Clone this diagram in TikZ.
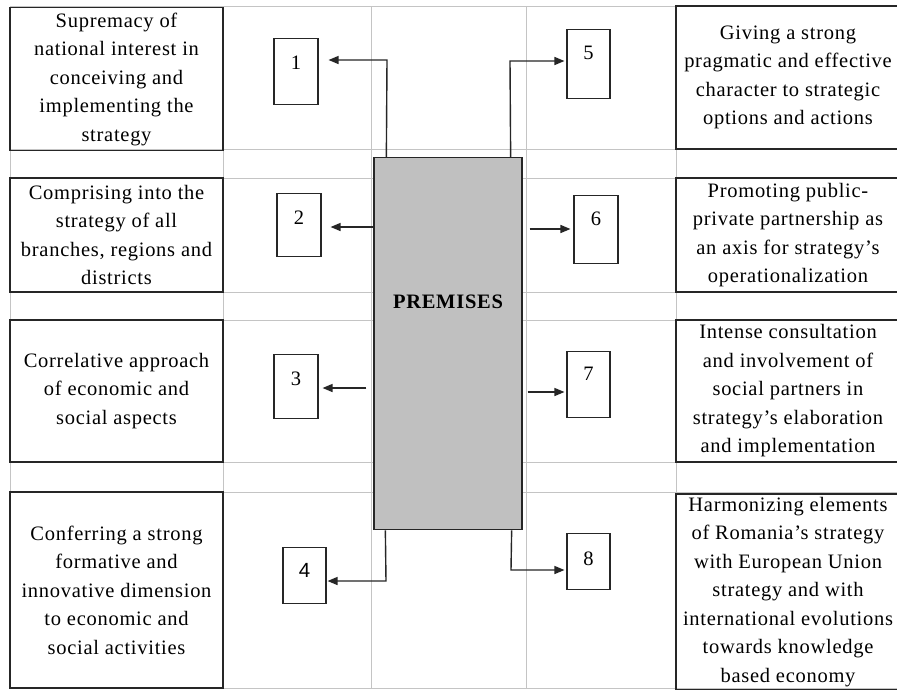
\documentclass[tikz,border=0pt]{standalone}
\usepackage{fontspec}
\setmainfont{Liberation Serif}[LetterSpace=3.5]
\newfontfamily\numsans{Liberation Sans}
\usetikzlibrary{arrows.meta}
\definecolor{gridgray}{HTML}{C4C4C4}
\definecolor{boxgray}{HTML}{C0C0C0}
\definecolor{ink}{HTML}{262626}
\begin{document}
\begin{tikzpicture}[x=1pt,y=-1pt,
  txt/.style={font=\fontsize{20.5}{28.5}\selectfont},
  tbox/.style={txt, draw=ink, line width=1.3pt, align=center, inner sep=0pt},
  numbox/.style={txt, draw=ink, line width=1.1pt, inner sep=0pt, anchor=north},
  gridline/.style={draw=gridgray, line width=1pt},
  arr/.style={draw=ink, line width=1.4pt, -{Triangle[length=10pt,width=8pt]}},
]
\useasboundingbox (0,0) rectangle (897,689);
\fill[white] (0,0) rectangle (897,689);
% table grid
\foreach \y in {6,149,178,292,320,462,492,688} \draw[gridline] (10,\y) -- (897,\y);
\foreach \x in {10,223,371,526,676} \draw[gridline] (\x,6) -- (\x,688);
% left text boxes
\node[tbox, minimum width=213pt, minimum height=143pt] (L1) at (116.5,79) {Supremacy of\\national interest in\\conceiving and\\implementing the\\strategy};
\node[tbox, minimum width=213pt, minimum height=114pt] (L2) at (116.5,235) {Comprising into the\\strategy of all\\branches, regions and\\districts};
\node[tbox, minimum width=213pt, minimum height=142pt] (L3) at (116.5,391) {Correlative approach\\of economic and\\social aspects};
\node[tbox, minimum width=213pt, minimum height=196pt] (L4) at (116.5,590) {Conferring a strong\\formative and\\innovative dimension\\to economic and\\social activities};
% right text boxes
\node[tbox, minimum width=224pt, minimum height=143pt] (R5) at (788,77.5) {Giving a strong\\pragmatic and effective\\character to strategic\\options and actions};
\node[tbox, minimum width=224pt, minimum height=114pt] (R6) at (788,235) {Promoting public-\\private partnership as\\an axis for strategy’s\\operationalization};
\node[tbox, minimum width=224pt, minimum height=142pt] (R7) at (788,391) {Intense consultation\\and involvement of\\social partners in\\strategy’s elaboration\\and implementation};
\node[tbox, minimum width=224pt, minimum height=196pt] (R8) at (788,592) {Harmonizing elements\\of Romania’s strategy\\with European Union\\strategy and with\\international evolutions\\towards knowledge\\based economy};
% central box
\node[draw=ink, fill=boxgray, line width=1.3pt, minimum width=148pt, inner sep=0pt,
      text height=151pt, text depth=221pt, anchor=north,
      font=\fontsize{20.5}{24}\selectfont\bfseries] (C) at (448,157) {PREMISES};
% numbered boxes
\node[numbox, minimum width=44pt, text height=31pt, text depth=35pt] (n1) at (296,38) {1};
\node[numbox, minimum width=44pt, text height=31pt, text depth=32pt] (n2) at (299,193) {2};
\node[numbox, minimum width=44pt, text height=31pt, text depth=33pt] (n3) at (296,354) {3};
\node[numbox, minimum width=43pt, text height=30pt, text depth=26pt, font=\fontsize{20.5}{24}\numsans] (n4) at (304.5,547) {4};
\node[numbox, minimum width=43pt, text height=30pt, text depth=39pt] (n5) at (588.5,29) {5};
\node[numbox, minimum width=44pt, text height=30pt, text depth=38pt] (n6) at (596,195) {6};
\node[numbox, minimum width=43pt, text height=29pt, text depth=37pt] (n7) at (588.5,351) {7};
\node[numbox, minimum width=43pt, text height=32pt, text depth=24pt] (n8) at (588.5,533) {8};
% connectors
\coordinate (t1) at (387,60);
\draw[arr, shorten >=10pt] ([xshift=13pt]C.north west) -- (t1) -- (n1.east |- t1);
\draw[arr, shorten >=9pt] (C.west |- 0,227) -- (n2.east |- 0,227);
\draw[arr, shorten <=7pt, shorten >=4pt] (C.west |- 0,388) -- (n3.east |- 0,388);
\coordinate (t4) at (386,581);
\draw[arr, shorten >=1pt] ([xshift=12pt]C.south west) -- (t4) -- (n4.east |- t4);
\coordinate (t5) at (510,61);
\draw[arr, shorten >=2pt] ([xshift=-12pt]C.north east) -- (t5) -- (n5.west |- t5);
\draw[arr, shorten <=7pt, shorten >=3pt] (C.east |- 0,229) -- (n6.west |- 0,229);
\draw[arr, shorten <=5pt, shorten >=2pt] (C.east |- 0,392) -- (n7.west |- 0,392);
\coordinate (t8) at (511,570);
\draw[arr, shorten >=2pt] ([xshift=-11pt]C.south east) -- (t8) -- (n8.west |- t8);
\end{tikzpicture}
\end{document}
